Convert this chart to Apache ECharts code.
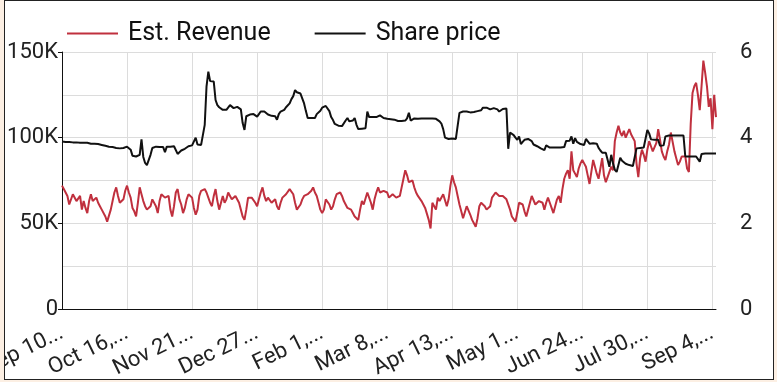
<!DOCTYPE html>
<html>
<head>
<meta charset="utf-8">
<script src="https://cdn.jsdelivr.net/npm/echarts@6/dist/echarts.min.js"></script>
<style>
html,body{margin:0;padding:0;background:#fcefe3;width:777px;height:382px;overflow:hidden;}
#frame{position:absolute;left:4px;top:0px;width:768px;height:378px;border:1px solid #222;background:#fff;overflow:hidden;}
#chart{position:absolute;left:0;top:0;width:768px;height:378px;}
</style>
</head>
<body>
<div id="frame"><div id="chart"></div></div>
<script>
// Daily categories: Sep 10, 2019 .. Sep 6, 2020
const startDate = [2019, 8, 10];
const dayCount = 363;
const monthNames = ['Jan','Feb','Mar','Apr','May','Jun','Jul','Aug','Sep','Oct','Nov','Dec'];
const categories = [];
for (let i = 0; i < dayCount; i++) {
  const d = new Date(Date.UTC(startDate[0], startDate[1], startDate[2] + i));
  categories.push(monthNames[d.getUTCMonth()] + ' ' + d.getUTCDate() + ', ' + d.getUTCFullYear());
}

// Est. Revenue (thousands)
const revenueK = [
72,70,68,66,61,60,67,66,63,64,
66,58,63,59,56,63,67,63,62,65,
62,60,58,57,54,51,52,58,63,68,
71,66,62,62,64,69,72,68,65,59,
57,54,62,71,67,63,60,58,58,60,
64,65,60,56,63,67,66,65,66,66,
58,54,60,68,70,64,61,56,59,64,
67,66,65,59,55,58,66,69,68,70,
68,65,62,60,66,70,63,58,62,66,
62,64,68,66,64,63,66,67,62,58,
54,52,58,65,66,65,64,62,60,64,
68,71,66,63,65,64,62,63,64,60,
58,62,65,66,67,68,70,71,67,62,
58,57,61,64,66,67,67,67,69,71,
68,66,62,58,56,58,64,64,61,58,
60,64,67,68,68,66,63,61,59,59,
58,56,54,53,52,58,63,61,60,68,
69,62,58,64,68,71,68,68,69,70,
68,65,66,67,66,65,64,66,71,76,
81,78,74,74,75,71,68,66,65,63,
61,59,58,52,47,62,60,58,65,63,
62,67,66,60,64,72,78,74,71,66,
61,57,53,54,60,60,55,52,50,48,
53,60,62,63,60,58,57,60,65,66,
68,67,66,66,66,65,64,63,58,54,
53,51,56,62,62,61,57,54,58,62,
66,66,61,60,63,64,62,58,62,65,
62,59,56,55,64,66,62,70,76,79,
81,76,92,81,79,77,82,85,87,85,
83,78,73,80,87,83,79,76,82,88,
78,74,77,80,83,81,98,103,107,103,
101,104,100,99,105,102,100,98,85,77,
88,93,90,86,93,98,95,92,91,97,
105,99,92,89,87,92,96,103,104,92,
88,84,86,89,90,89,82,80,108,126,
130,132,125,116,130,145,138,130,118,123,
105,125,112
];

// Share price
const sharePrice = [
3.91,3.91,3.90,3.90,3.90,3.90,3.89,3.89,3.89,3.88,
3.88,3.88,3.88,3.87,3.88,3.88,3.86,3.85,3.86,3.86,
3.85,3.84,3.83,3.82,3.81,3.81,3.79,3.78,3.78,3.77,
3.76,3.76,3.75,3.75,3.76,3.78,3.79,3.79,3.72,3.58,
3.56,3.56,3.56,3.60,3.96,3.55,3.41,3.36,3.34,3.60,
3.76,3.72,3.79,3.79,3.78,3.78,3.78,3.66,3.79,3.79,
3.79,3.79,3.80,3.80,3.62,3.64,3.70,3.72,3.74,3.76,
3.80,3.80,3.82,3.85,4.00,3.84,3.83,3.83,3.84,4.30,
5.20,5.54,5.32,5.31,5.31,4.88,4.76,4.71,4.67,4.65,
4.65,4.65,4.69,4.76,4.73,4.69,4.70,4.72,4.70,4.66,
4.34,4.18,4.50,4.54,4.54,4.55,4.55,4.52,4.49,4.55,
4.61,4.61,4.61,4.60,4.54,4.51,4.51,4.51,4.50,4.42,
4.55,4.61,4.62,4.65,4.71,4.72,4.80,4.90,4.97,5.11,
5.06,5.04,5.03,5.00,4.80,4.62,4.46,4.46,4.46,4.46,
4.46,4.55,4.58,4.63,4.70,4.74,4.74,4.74,4.62,4.48,
4.41,4.32,4.28,4.28,4.27,4.27,4.30,4.40,4.46,4.38,
4.34,4.40,4.46,4.30,4.20,4.18,4.21,4.22,4.22,4.61,
4.48,4.47,4.48,4.48,4.48,4.49,4.52,4.50,4.46,4.45,
4.44,4.43,4.43,4.43,4.42,4.41,4.39,4.39,4.39,4.39,
4.40,4.45,4.58,4.40,4.44,4.45,4.44,4.44,4.44,4.45,
4.45,4.45,4.45,4.45,4.45,4.45,4.44,4.44,4.42,4.38,
4.33,4.20,4.00,3.98,3.97,3.98,3.98,3.97,3.97,3.98,
4.58,4.61,4.61,4.60,4.61,4.60,4.59,4.58,4.60,4.61,
4.62,4.60,4.64,4.70,4.71,4.70,4.66,4.66,4.68,4.69,
4.69,4.66,4.61,4.65,4.67,4.69,4.68,3.74,4.12,4.10,
4.06,4.00,3.95,4.03,3.85,3.90,3.95,3.96,3.97,3.95,
3.92,3.84,3.80,3.80,3.77,3.75,3.74,3.71,3.82,3.78,
3.77,3.77,3.77,3.77,3.77,3.77,3.77,3.77,3.78,3.92,
3.93,3.93,4.03,3.86,3.99,3.90,3.87,3.85,3.83,3.83,
3.97,3.96,3.86,3.87,3.87,3.87,3.86,3.76,3.70,3.65,
3.65,3.65,3.68,3.32,3.60,3.40,3.25,3.20,3.17,3.53,
3.46,3.42,3.39,3.37,3.36,3.34,3.34,3.36,3.75,3.76,
3.76,3.76,3.77,3.80,4.18,4.10,3.96,3.96,3.95,3.95,
3.95,3.81,3.81,3.82,4.03,4.05,4.05,4.05,4.05,4.05,
4.05,4.05,4.05,4.05,4.05,3.56,3.56,3.56,3.56,3.56,
3.56,3.56,3.56,3.44,3.62,3.63,3.63,3.63,3.63,3.63,
3.63,3.63,3.63
];

const seriesNames = ['Est. Revenue', 'Share price'];
const leftTicks = [0, 50, 100, 150];
const rightTicks = [0, 2, 4, 6];

const FONT = 'Roboto';
const AXIS_FONT = 22;
const measureCtx = document.createElement('canvas').getContext('2d');
measureCtx.font = AXIS_FONT + 'px ' + FONT;
function shortLabel(v) {
  let s = '';
  for (const ch of v) {
    if (measureCtx.measureText(s + ch).width > 70) break;
    s += ch;
  }
  if (s.length < v.length) s = s.replace(/\s+$/, '') + '...';
  return s;
}

const chart = echarts.init(document.getElementById('chart'), null, {renderer: 'canvas'});
chart.setOption({
  animation: false,
  backgroundColor: 'transparent',
  textStyle: {fontFamily: FONT},
  legend: {
    left: 57, top: 15,
    icon: 'rect',
    itemWidth: 51, itemHeight: 2, itemGap: 44,
    textStyle: {fontSize: 25, color: '#111', fontFamily: FONT, padding: [0, 0, 0, 5]},
    data: seriesNames
  },
  grid: {left: 57, top: 51, right: 57, bottom: 70, containLabel: false, outerBoundsMode: 'none'},
  xAxis: {
    type: 'category',
    data: categories,
    boundaryGap: false,
    axisLine: {lineStyle: {color: '#111', width: 1}},
    axisTick: {show: false},
    axisLabel: {
      interval: 35, rotate: 26, fontSize: AXIS_FONT, color: '#222', fontFamily: FONT,
      margin: 23, formatter: shortLabel
    },
    splitLine: {show: true, interval: 35, lineStyle: {color: '#dcdcdc', width: 1}}
  },
  yAxis: [
    {
      type: 'value', min: 0, max: 150, interval: 50,
      axisLine: {show: true, lineStyle: {color: '#111', width: 1}},
      axisTick: {show: true, length: 4, lineStyle: {color: '#111'}},
      axisLabel: {
        fontSize: AXIS_FONT, color: '#222', fontFamily: FONT, margin: 4,
        formatter: v => (leftTicks.indexOf(v) >= 0 ? (v === 0 ? '0' : v + 'K') : '')
      },
      splitLine: {show: true, lineStyle: {color: '#dcdcdc', width: 1}},
      minorTick: {show: false, splitNumber: 2},
      minorSplitLine: {show: true, lineStyle: {color: '#dcdcdc', width: 1}}
    },
    {
      type: 'value', min: 0, max: 6, interval: 2, position: 'right',
      axisLine: {show: false}, axisTick: {show: false},
      axisLabel: {
        fontSize: AXIS_FONT, color: '#222', fontFamily: FONT, margin: 24,
        formatter: v => (rightTicks.indexOf(v) >= 0 ? String(v) : '')
      },
      splitLine: {show: false}
    }
  ],
  series: [
    {
      name: seriesNames[0], type: 'line', yAxisIndex: 0, data: revenueK,
      symbol: 'none', showSymbol: false,
      lineStyle: {color: '#c0303e', width: 2}, itemStyle: {color: '#c0303e'}
    },
    {
      name: seriesNames[1], type: 'line', yAxisIndex: 1, data: sharePrice,
      symbol: 'none', showSymbol: false,
      lineStyle: {color: '#111111', width: 2}, itemStyle: {color: '#111111'}
    }
  ]
});
</script>
</body>
</html>
